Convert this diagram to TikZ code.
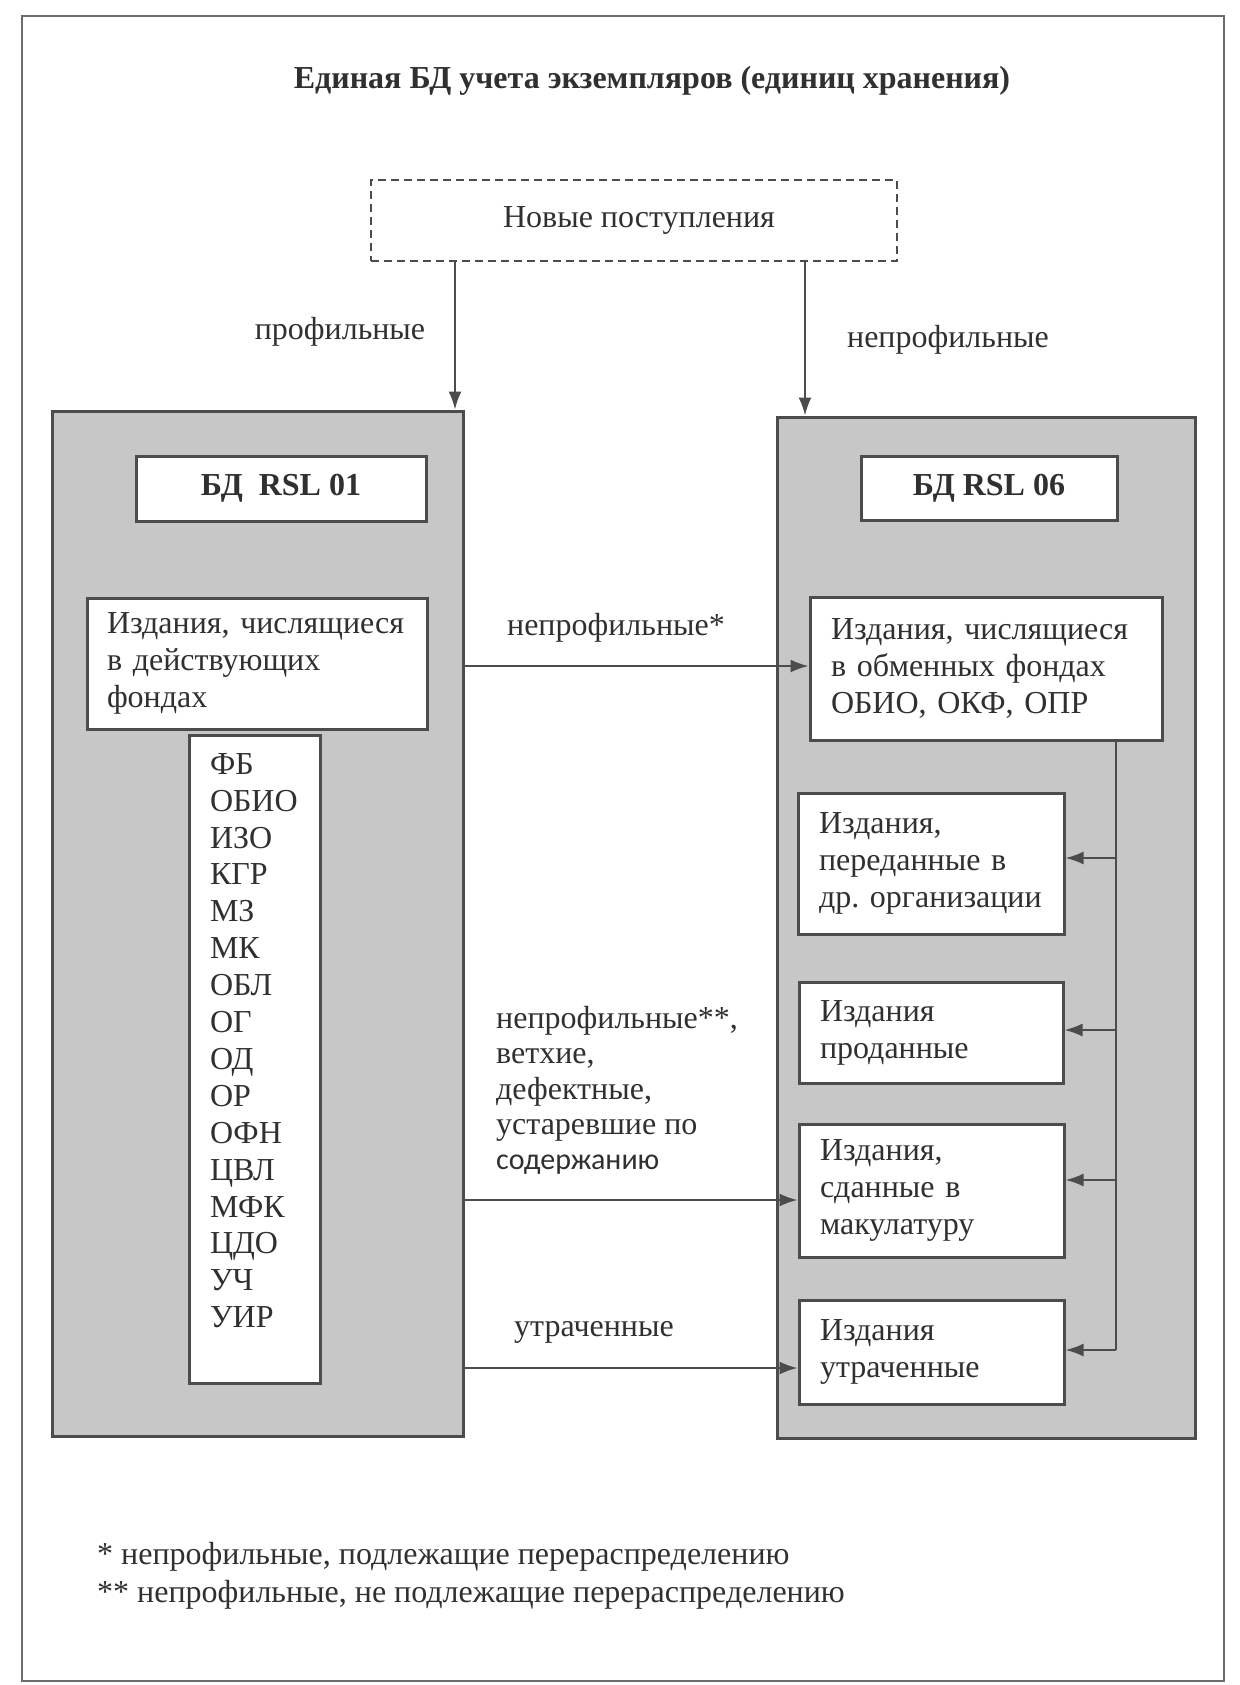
\documentclass[tikz,border=0pt]{standalone}
\usepackage{fontspec}
\setmainfont{Liberation Serif}
\newfontfamily\carlito{Carlito}
\usetikzlibrary{arrows.meta}
\definecolor{txtc}{gray}{0.19}
\definecolor{lnc}{gray}{0.30}
\definecolor{fillg}{gray}{0.78}
\definecolor{framec}{gray}{0.42}
\tikzset{
  every node/.style={text=txtc},
  mainfs/.style={font=\fontsize{32}{37}\selectfont},
  frm/.style={draw=framec, line width=2.5pt, inner sep=0pt},
  graybox/.style={draw=lnc, line width=3pt, fill=fillg, inner sep=0pt},
  wbox/.style={draw=lnc, line width=3pt, fill=white, inner ysep=0pt, mainfs},
  pbox/.style={wbox, align=left, inner xsep=21pt},
  lbl/.style={mainfs, inner sep=0pt},
  conn/.style={draw=lnc, line width=2pt},
  arr/.style={conn, -{Latex[length=18pt,width=13pt]}},
}
\begin{document}
\begin{tikzpicture}[x=1pt,y=-1pt]
\useasboundingbox (0,0) rectangle (1239,1685);
% outer frame
\node[frm, minimum width=1202pt, minimum height=1665pt] (frame) at (623,848.5) {};
% title
\node[font=\bfseries\fontsize{32}{38}\selectfont] (title) at (652,81) {Единая БД учета экземпляров (единиц хранения)};
% new arrivals
\node[draw=lnc, line width=2.5pt, dash pattern=on 8pt off 5pt, minimum width=526pt, minimum height=81pt, inner sep=0pt, font=\fontsize{32}{38}\selectfont] (new) at (634,220.5) {\hspace*{10pt}Новые поступления};
% grey databases
\node[graybox, minimum width=411pt, minimum height=1025pt] (g1) at (257.5,923.5) {};
\node[graybox, minimum width=418pt, minimum height=1021pt] (g2) at (986,927.5) {};
% db titles
\node[wbox, inner xsep=0pt, minimum width=290pt, minimum height=65pt, font=\bfseries\fontsize{32}{37}\selectfont] (db1) at (281,488.5) {БД\ \ RSL 01};
\node[wbox, inner xsep=0pt, minimum width=256pt, minimum height=64pt, font=\bfseries\fontsize{32}{37}\selectfont] (db2) at (989,488) {БД RSL 06};
% left boxes
\node[pbox, inner xsep=20pt, minimum height=131pt, text width=300pt] (act) at (257,663.5) {Издания,~числящиеся\\в~действующих\\фондах};
\node[pbox, minimum height=648pt, text width=89pt, font=\fontsize{32}{36.9}\selectfont] (lst) at (254.5,1059) {ФБ\\ОБИО\\ИЗО\\КГР\\МЗ\\МК\\ОБЛ\\ОГ\\ОД\\ОР\\ОФН\\ЦВЛ\\МФК\\ЦДО\\УЧ\\УИР\\\mbox{}};
% right boxes
\node[pbox, minimum height=143pt, text width=310pt] (obm) at (986,668.5) {Издания,~числящиеся\\в~обменных~фондах\\ОБИО,~ОКФ,~ОПР};
\node[pbox, minimum height=141pt, text width=224pt] (per) at (931,863.5) {Издания,\\переданные~в\\др.~организации};
\node[pbox, minimum height=101pt, text width=222pt] (prod) at (931,1032.5) {Издания\\проданные};
\node[pbox, minimum height=133pt, text width=223pt] (mak) at (931.5,1190.5) {Издания,\\сданные~в\\макулатуру};
\node[pbox, minimum height=104pt, text width=223pt] (utr) at (931.5,1352) {Издания\\утраченные};
% labels
\node[lbl] (lprof) at (340,332) {профильные};
\node[lbl] (lnprof) at (948,340) {непрофильные};
\node[lbl] (lnp1) at (616,628) {непрофильные*};
\node[lbl, align=left, anchor=west, font=\fontsize{32}{35.3}\selectfont] (lmid) at (496,1090.5) {непрофильные**,\\ветхие,\\дефектные,\\устаревшие по\\{\carlito\fontsize{30}{35.3}\selectfont содержанию}};
\node[lbl] (llost) at (594,1332) {утраченные};
% footnotes
\node[lbl, align=left, anchor=west, font=\fontsize{32}{38}\selectfont] (notes) at (97,1576) {* непрофильные, подлежащие перераспределению\\** непрофильные, не подлежащие перераспределению};
% coordinates
\coordinate (ax1) at (455,0);
\coordinate (ax2) at (805,0);
\coordinate (bus) at (1116,0);
\coordinate (y1) at (0,858);
\coordinate (y2) at (0,1030);
\coordinate (y3) at (0,1180);
\coordinate (y4) at (0,1350);
\coordinate (ya) at (0,666);
\coordinate (yb) at (0,1200);
\coordinate (yc) at (0,1368);
% connectors
\draw[arr] (new.south -| ax1) -- (g1.north -| ax1);
\draw[arr] (new.south -| ax2) -- (g2.north -| ax2);
\draw[arr] (g1.east |- ya) -- (obm.west |- ya);
\draw[arr] (g1.east |- yb) -- (mak.west |- yb);
\draw[arr] (g1.east |- yc) -- (utr.west |- yc);
\draw[conn] (obm.south -| bus) -- (bus |- y4);
\draw[arr] (bus |- y1) -- (per.east |- y1);
\draw[arr] (bus |- y2) -- (prod.east |- y2);
\draw[arr] (bus |- y3) -- (mak.east |- y3);
\draw[arr] (bus |- y4) -- (utr.east |- y4);
\end{tikzpicture}
\end{document}
